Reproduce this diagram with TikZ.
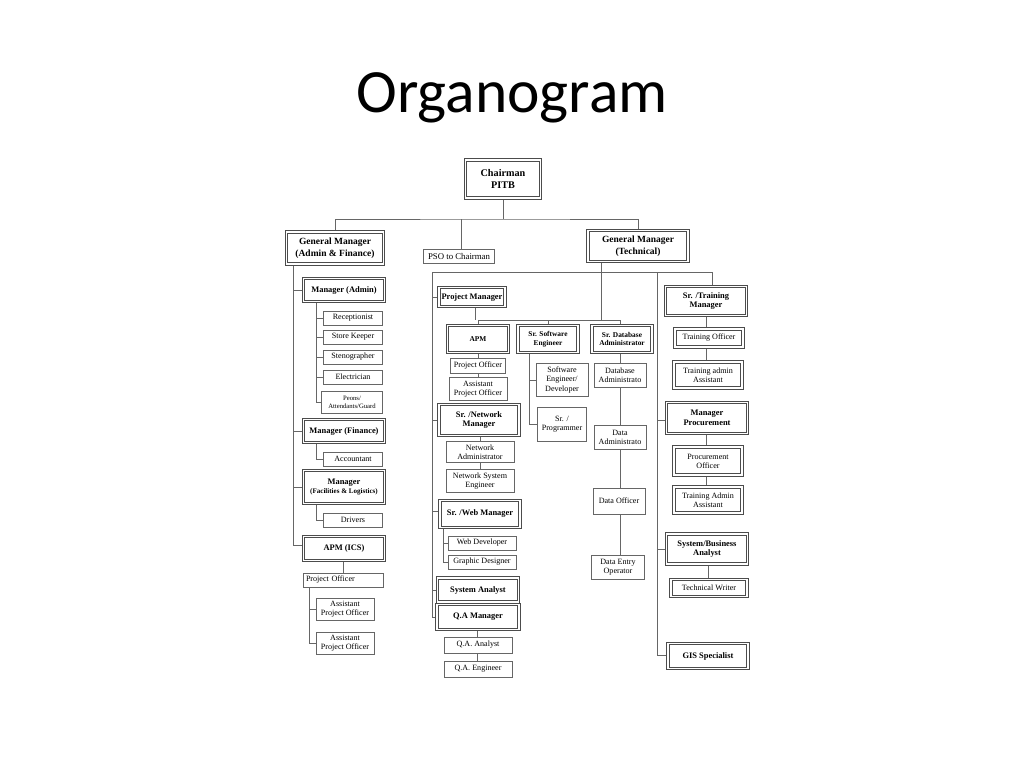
\documentclass[tikz,border=0pt]{standalone}
\usepackage{fontspec}
\setmainfont{Liberation Serif}
\newfontfamily\titlefont{Carlito}
\begin{document}
\begin{tikzpicture}[x=0.02cm,y=-0.02cm,
  thin/.style={draw=gray!80!black,line width=0.4pt,fill=white,inner sep=1pt,align=center,font=\fontsize{4.6}{5.2}\selectfont},
  thick/.style={draw=gray!60!black,double,double distance=0.9pt,line width=0.5pt,fill=white,inner sep=1pt,align=center,font=\bfseries\fontsize{4.8}{5.6}\selectfont},
  ln/.style={draw=gray!80!black,line width=0.5pt}]
\fill[white] (0,0) rectangle (1024,768);
\useasboundingbox (0,0) rectangle (1024,768);
\newcommand\bx[7]{\node[#1,minimum width=#5*0.02cm,minimum height=#6*0.02cm] (#2) at (#3,#4) {#7};}
\node[font=\titlefont\fontsize{35}{40}\selectfont] (title) at (512,98) {Organogram};
% coordinates
\coordinate (b1) at (503,219);
\coordinate (s1) at (293,264);
\coordinate (s2) at (316,302);
\coordinate (s3) at (316,443);
\coordinate (s4) at (316,504);
\coordinate (s5) at (309,587);
\coordinate (t1) at (601,261);
\coordinate (t2) at (601,320);
\coordinate (h1) at (432,272);
\coordinate (h2) at (712,272);
\coordinate (h3) at (657,272);
\coordinate (pb) at (478,320);
\coordinate (db) at (620,320);
\coordinate (sw) at (529,353);
\coordinate (wb) at (443,527);
% lines (drawn first)
\draw[ln] (503,198) -- (b1);
\draw[ln] (335,232) |- (b1) -| (638,230);
\draw[ln] (461,249) -- (461,219);
\draw[ln] (s1) |- (304,290); \draw[ln] (s1) |- (304,431); \draw[ln] (s1) |- (304,487); \draw[ln] (s1) |- (304,545);
\foreach \y in {318,337,357,377,402} \draw[ln] (s2) |- (324,\y);
\draw[ln] (s3) |- (324,459);
\draw[ln] (s4) |- (324,520);
\draw[ln] (343,560) -- (343,573);
\draw[ln] (s5) |- (316,609); \draw[ln] (s5) |- (316,643);
\draw[ln] (t1) -- (t2);
\draw[ln] (h1) -- (h2) -- (712,287);
\draw[ln] (h1) |- (439,297); \draw[ln] (h1) |- (439,420); \draw[ln] (h1) |- (440,511); \draw[ln] (h1) |- (438,590); \draw[ln] (h1) |- (437,617);
\draw[ln] (475,307) -- (475,320);
\draw[ln] (pb) -- (db);
\draw[ln] (pb) -- (478,325); \draw[ln] (548,320) -- (548,326); \draw[ln] (db) -- (620,326);
\draw[ln] (478,352) -- (478,378);
\draw[ln] (sw) |- (536,380); \draw[ln] (sw) |- (538,424);
\draw[ln] (620,353) -- (620,555);
\draw[ln] (480,436) -- (480,470);
\draw[ln] (wb) |- (448,543); \draw[ln] (wb) |- (448,562);
\draw[ln] (477,630) -- (477,661);
\draw[ln] (h3) -- (657,655) -- (668,655);
\draw[ln] (657,420) -- (667,420); \draw[ln] (657,549) -- (667,549);
\draw[ln] (706,316) -- (706,362);
\draw[ln] (706,434) -- (706,487);
\draw[ln] (708,564) -- (708,580);
% nodes
\bx{thick,font=\bfseries\fontsize{5.8}{7}\selectfont}{chair}{503}{179}{75}{38}{Chairman\\PITB}
\bx{thick,font=\bfseries\fontsize{5.4}{6.6}\selectfont}{gmaf}{335}{248}{97}{32}{General Manager\\(Admin \& Finance)}
\bx{thin,font=\fontsize{5}{6}\selectfont}{pso}{459}{256}{71}{14}{PSO to Chairman}
\bx{thick,font=\bfseries\fontsize{5.4}{6.6}\selectfont}{gmt}{638}{246}{100}{31}{General Manager\\(Technical)}
% left
\bx{thick}{mgradmin}{344}{290}{81}{23}{Manager (Admin)}
\bx{thin}{recep}{353}{318}{59}{14}{Receptionist}
\bx{thin}{store}{353}{337}{59}{14}{Store Keeper}
\bx{thin}{steno}{353}{357}{59}{14}{Stenographer}
\bx{thin}{elec}{353}{377}{59}{14}{Electrician}
\bx{thin,font=\fontsize{3.8}{4.6}\selectfont}{peons}{352}{402}{61}{22}{Peons/\\Attendants/Guard}
\bx{thick}{mgrfin}{344}{431}{81}{23}{Manager (Finance)}
\bx{thin}{acct}{353}{459}{59}{14}{Accountant}
\bx{thick}{mgrfac}{344}{487}{81}{33}{Manager\\{\fontsize{4}{5}\selectfont(Facilities \& Logistics)}}
\bx{thin}{drivers}{353}{520}{59}{14}{Drivers}
\bx{thick,anchor=north}{apmics}{344}{536}{81}{24}{APM (ICS)}
\bx{thin,align=left,text width=74*0.02cm}{pol}{343}{580}{80}{14}{Project Officer}
\bx{thin}{apo1}{345}{609}{58}{22}{Assistant\\Project Officer}
\bx{thin}{apo2}{345}{643}{58}{22}{Assistant\\Project Officer}
% middle
\bx{thick}{pm}{472}{297}{66}{19}{Project Manager}
\bx{thick,anchor=north,font=\bfseries\fontsize{4.2}{5}\selectfont}{apm}{478}{325}{61}{27}{APM}
\bx{thick,font=\bfseries\fontsize{4.2}{5}\selectfont}{swe}{548}{339}{60}{27}{Sr. Software\\Engineer}
\bx{thick,font=\bfseries\fontsize{4.2}{5}\selectfont}{dba}{622}{339}{60}{27}{Sr. Database\\Administrator}
\bx{thin}{po}{478}{366}{55}{15}{Project Officer}
\bx{thin}{apo}{478}{389}{58}{23}{Assistant\\Project Officer}
\bx{thin}{sedev}{562}{380}{52}{33}{Software\\Engineer/\\Developer}
\bx{thin}{srprog}{562}{424}{49}{34}{Sr. /\\Programmer}
\bx{thin}{dbadm}{620}{375}{52}{24}{Database\\Administrato}
\bx{thin}{dataadm}{620}{437}{52}{24}{Data\\Administrato}
\bx{thin}{dataoff}{619}{501}{52}{26}{Data Officer}
\bx{thin}{dataentry}{618}{567}{53}{24}{Data Entry\\Operator}
\bx{thick}{srnet}{479}{420}{80}{31}{Sr. /Network\\Manager}
\bx{thin}{netadm}{480}{452}{68}{21}{Network\\Administrator}
\bx{thin}{netsys}{480}{481}{68}{23}{Network System\\Engineer}
\bx{thick,anchor=north}{srweb}{480}{500}{80}{27}{Sr. /Web Manager}
\bx{thin}{webdev}{482}{543}{68}{14}{Web Developer}
\bx{thin}{graphic}{482}{562}{68}{14}{Graphic Designer}
\bx{thick}{sysan}{478}{590}{81}{24}{System Analyst}
\bx{thick}{qam}{478}{617}{82}{25}{Q.A Manager}
\bx{thin}{qaan}{478}{645}{68}{16}{Q.A. Analyst}
\bx{thin}{qaeng}{478}{669}{68}{16}{Q.A. Engineer}
% right
\bx{thick}{srtrain}{706}{301}{81}{29}{Sr. /Training\\Manager}
\bx{thick,font=\fontsize{4.6}{5.2}\selectfont}{trainoff}{709}{338}{68}{18}{Training Officer}
\bx{thick,font=\fontsize{4.6}{5.2}\selectfont}{trainadm}{708}{375}{68}{26}{Training admin\\Assistant}
\bx{thick}{mgrproc}{707}{418}{81}{31}{Manager\\Procurement}
\bx{thick,font=\fontsize{4.6}{5.2}\selectfont}{procoff}{708}{461}{68}{28}{Procurement\\Officer}
\bx{thick,font=\fontsize{4.6}{5.2}\selectfont}{tradm2}{708}{500}{68}{26}{Training Admin\\Assistant}
\bx{thick}{sysbus}{707}{549}{81}{30}{System/Business\\Analyst}
\bx{thick,font=\fontsize{4.6}{5.2}\selectfont}{techw}{709}{588}{76}{17}{Technical Writer}
\bx{thick}{gis}{708}{656}{80}{25}{GIS Specialist}
\end{tikzpicture}
\end{document}
